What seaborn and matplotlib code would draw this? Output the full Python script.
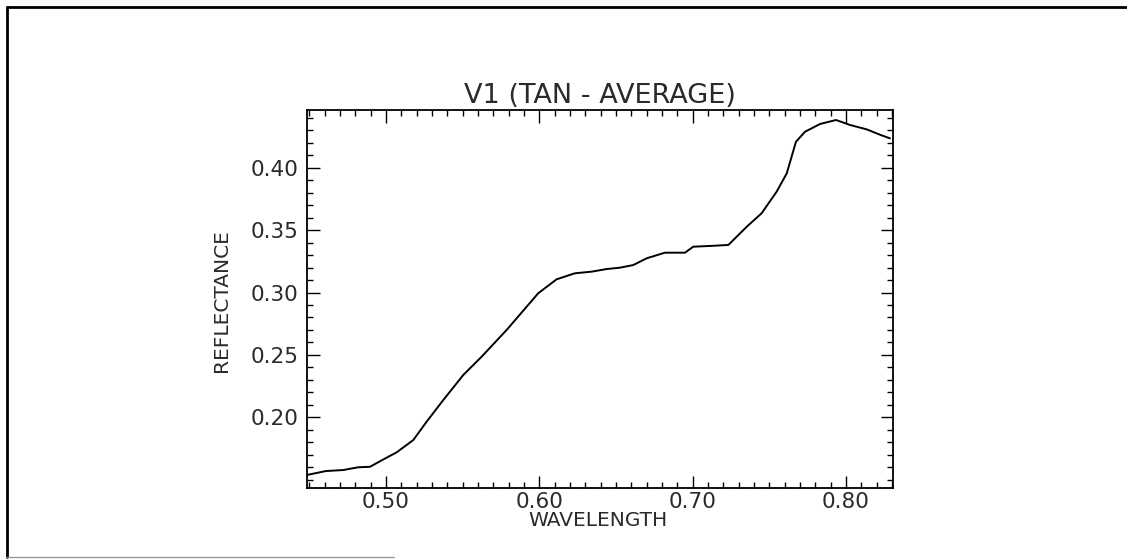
import matplotlib
matplotlib.use("Agg")
import matplotlib.pyplot as plt
from matplotlib.lines import Line2D
from matplotlib.ticker import MultipleLocator
import seaborn as sns

wavelength = [0.4483, 0.4609, 0.4721, 0.4819, 0.4896, 0.4983, 0.5070, 0.5178,
              0.5265, 0.5374, 0.5504, 0.5624, 0.5787, 0.5993, 0.6113,
              0.6232, 0.6341, 0.6439, 0.6526, 0.6613, 0.6700, 0.6819, 0.6950,
              0.7004, 0.7113, 0.7233, 0.7353, 0.7450, 0.7548, 0.7614, 0.7674,
              0.7733, 0.7831, 0.7935, 0.8027, 0.8135, 0.8226, 0.8287]
reflectance = [0.1538, 0.1570, 0.1578, 0.1600, 0.1604, 0.1663, 0.1720, 0.1818,
               0.1965, 0.2139, 0.2339, 0.2486, 0.2700, 0.2994, 0.3106,
               0.3154, 0.3167, 0.3188, 0.3199, 0.3220, 0.3274, 0.3319, 0.3319,
               0.3367, 0.3373, 0.3381, 0.3527, 0.3635, 0.3808, 0.3955, 0.4208,
               0.4288, 0.4350, 0.4382, 0.4342, 0.4307, 0.4262, 0.4235]

sns.set_style("ticks")
plt.rcParams["font.family"] = ["DejaVu Sans"]

fig = plt.figure(figsize=(11.27, 5.59), dpi=100)
ax = fig.add_axes([0.2724, 0.127, 0.52, 0.6762])

sns.lineplot(x=wavelength, y=reflectance, color="black", linewidth=1.4, ax=ax)

ax.set_xlim(0.4485, 0.8307)
ax.set_ylim(0.1434, 0.4462)
ax.xaxis.set_minor_locator(MultipleLocator(0.01))
ax.yaxis.set_minor_locator(MultipleLocator(0.01))
ax.set_xticks([0.5, 0.6, 0.7, 0.8])
ax.set_xticklabels(["0.50", "0.60", "0.70", "0.80"])
ax.set_yticks([0.20, 0.25, 0.30, 0.35, 0.40])
ax.set_yticklabels(["0.20", "0.25", "0.30", "0.35", "0.40"])

ax.tick_params(which="both", direction="in", top=True, right=True,
               color="black", width=1.0, labelsize=15.5, labelcolor="#2a2a2a")
ax.tick_params(which="major", length=9)
ax.tick_params(which="minor", length=4.5)
ax.tick_params(axis="x", pad=3)
ax.tick_params(axis="y", pad=6)
for s in ax.spines.values():
    s.set_linewidth(1.3)
    s.set_color("black")

ax.set_title("V1 (TAN - AVERAGE)", fontsize=19.5, pad=5, color="#2a2a2a")
ax.set_xlabel("WAVELENGTH", fontsize=14.5, color="#2a2a2a")
ax.set_ylabel("REFLECTANCE", fontsize=14.5, color="#2a2a2a")
ax.xaxis.set_label_coords(0.497, -0.062)
ax.yaxis.set_label_coords(-0.130, 0.495)

# frame around the page
fig.add_artist(Line2D([0.0062, 0.0062], [0.0036, 0.9875], color="black", lw=2))
fig.add_artist(Line2D([0.0062, 1.0], [0.9875, 0.9875], color="black", lw=2))
fig.add_artist(Line2D([0.0062, 0.35], [0.004, 0.004], color="#999999", lw=1))

fig.savefig("out.png", dpi=100)
